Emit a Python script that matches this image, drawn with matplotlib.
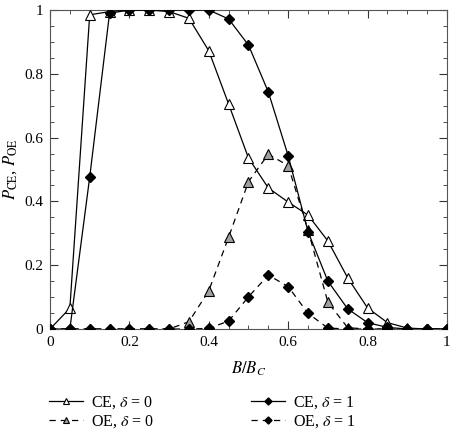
import numpy as np
import matplotlib
matplotlib.use("Agg")
import matplotlib.pyplot as plt
from matplotlib.ticker import MultipleLocator, FuncFormatter

# B/B_C sample points
b_ratio = [0.0, 0.05, 0.1, 0.15, 0.2, 0.25, 0.3, 0.35, 0.4, 0.45, 0.5,
           0.55, 0.6, 0.65, 0.7, 0.75, 0.8, 0.85, 0.9, 0.95, 1.0]

ce_d0 = [0.0, 0.065, 0.985, 0.995, 1.0, 1.0, 0.995, 0.974, 0.872, 0.705, 0.536,
         0.442, 0.398, 0.357, 0.276, 0.16, 0.066, 0.02, 0.003, 0.0, 0.0]
oe_d0 = [0.0, 0.0, 0.0, 0.0, 0.0, 0.0, 0.0, 0.023, 0.12, 0.288, 0.462,
         0.548, 0.512, 0.31, 0.084, 0.004, 0.0, 0.0, 0.0, 0.0, 0.0]
ce_d1 = [0.0, 0.0, 0.476, 0.99, 1.0, 1.0, 1.0, 1.0, 1.0, 0.972, 0.89,
         0.743, 0.543, 0.305, 0.15, 0.063, 0.02, 0.005, 0.0, 0.0, 0.0]
oe_d1 = [0.0, 0.0, 0.0, 0.0, 0.0, 0.0, 0.0, 0.0, 0.002, 0.025, 0.101,
         0.169, 0.133, 0.049, 0.003, 0.0, 0.0, 0.0, 0.0, 0.0, 0.0]

plt.rcParams["font.family"] = ["Liberation Serif", "DejaVu Serif"]
plt.rcParams["mathtext.fontset"] = "stix"

fig = plt.figure(figsize=(4.6, 4.32), dpi=100)
ax = fig.add_axes([0.1087, 0.2384, 0.863, 0.7384])

lw = 0.9
dash = (0, (5, 4))
ax.plot(b_ratio, ce_d0, color="black", lw=lw, marker="^", ms=6.5,
        mfc="white", mec="black", mew=0.8, label=r"CE, $\delta$ = 0", zorder=3)
ax.plot(b_ratio, oe_d0, color="black", lw=lw, ls=dash, marker="^", ms=6.5,
        mfc="#a0a0a0", mec="black", mew=0.8, label=r"OE, $\delta$ = 0", zorder=3)
ax.plot(b_ratio, ce_d1, color="black", lw=lw, marker="D", ms=5.5,
        mfc="black", mec="black", label=r"CE, $\delta$ = 1", zorder=4)
ax.plot(b_ratio, oe_d1, color="black", lw=lw, ls=dash, marker="D", ms=5.5,
        mfc="black", mec="black", label=r"OE, $\delta$ = 1", zorder=4)

ax.set_xlim(0, 1)
ax.set_ylim(0, 1)
fmt = FuncFormatter(lambda v, p: f"{v:g}")
for a in (ax.xaxis, ax.yaxis):
    a.set_major_locator(MultipleLocator(0.2))
    a.set_minor_locator(MultipleLocator(0.05))
    a.set_major_formatter(fmt)
ax.tick_params(which="both", direction="in", top=True, right=True,
               labelsize=11, colors="#333333", labelcolor="black")
ax.tick_params(which="major", length=6, width=0.8, pad=5)
ax.tick_params(which="minor", length=3, width=0.6)
for s in ax.spines.values():
    s.set_linewidth(0.8)
    s.set_color("#555555")

ax.set_xlabel(r"$B/B_C$", fontsize=12, labelpad=8)
ax.set_ylabel(r"$P_{\mathrm{CE}}$, $P_{\mathrm{OE}}$", fontsize=12, labelpad=4)

fig.legend(loc="upper left", bbox_to_anchor=(0.076, 0.12), ncol=2,
           frameon=False, fontsize=11.5, handlelength=2.1, columnspacing=6.1,
           labelspacing=0.12, handletextpad=0.5, markerscale=0.65)

fig.savefig("out.png", dpi=100, facecolor="white")
